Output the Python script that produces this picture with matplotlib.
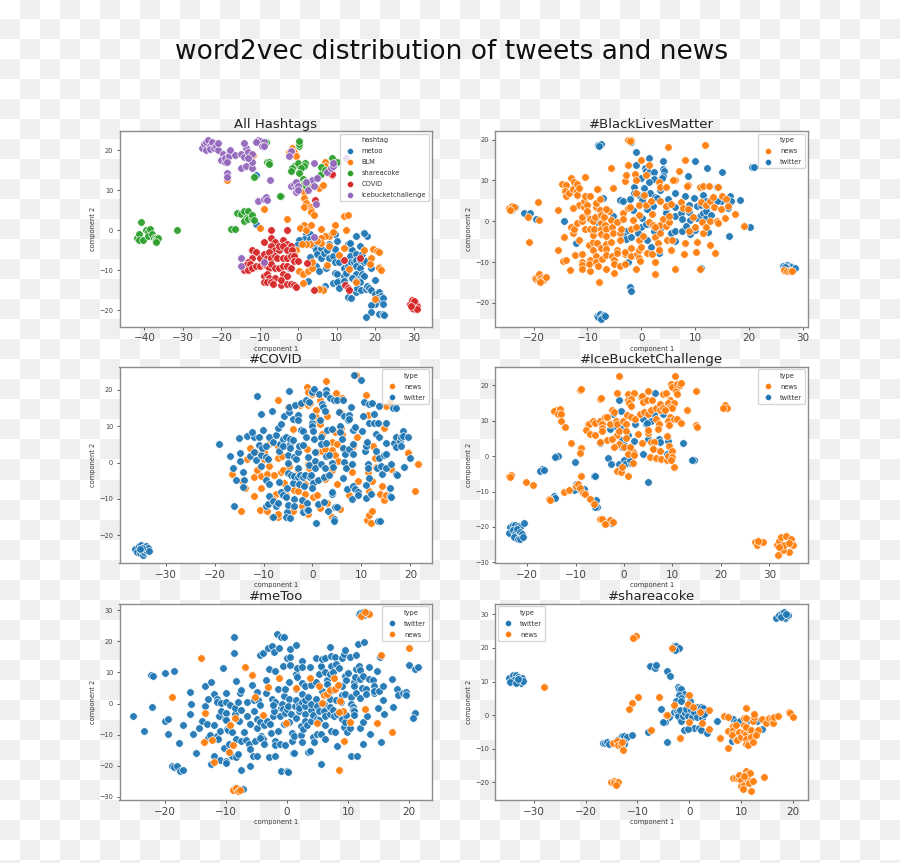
import matplotlib
matplotlib.use("Agg")
import matplotlib.pyplot as plt
import numpy as np
from matplotlib.lines import Line2D

BLUE = "#1f77b4"
ORANGE = "#ff7f0e"
GREEN = "#2ca02c"
RED = "#d62728"
PURPLE = "#9467bd"

# All Hashtags
all_metoo = [(-11.1,1.6),(-11,13.7),(2,-1),(3,-1),(1.5,-2.2),(3,-2.2),(0.3,-2.5),(-0.2,-3.6),(-2.3,-9.5),(2.5,-12.6),(3,-6.8),(4,-4),(4.5,-5),(5,-6),(4.5,-9),(5.5,-10.3),(6,-7),(6,-4.5),(6.8,-5.8),(7.5,-5),(8,-3.5),(8,-7),(9,-6.5),(9.5,-4.7),(9.5,-1),(10,-2.7),(9.5,-8),(10.5,-8),(7.3,-9.5),(9.5,-10.8),(10.2,-11),(10.3,-12.6),(9,-13.2),(10,-13),(10.7,-14.5),(7,-14),(6.5,-14.8),(12,-9.5),(12,-11.5),(12.5,-10.8),(12,-12.7),(13,-9),(13,-3.5),(13.5,-4.5),(14,-5),(13.5,-6.5),(13.7,-8),(14.5,-8),(15,-6),(15,-7.5),(16,-7.5),(15,-9),(16,-9.5),(17,-8),(17.5,-7.8),(16.5,-6),(15,-11),(16,-12),(16.5,-11),(17,-11.5),(14,-12),(15,-12.8),(16,-13),(13,-16.7),(13.8,-17),(15,-15.5),(15.2,-14.5),(16.3,-15),(17.5,-14.7),(18,-14),(18.5,-14.5),(19,-15),(20,-16),(21,-15.5),(21.5,-16.5),(20.5,-17),(21,-17.5),(22,-17),(22,-18.5),(20,-18.5),(19,-18.8),(19,-20.5),(17.5,-21.8),(21,-21),(22,-21),(22.3,-21.3),(20,-12.5),(19,-9.5),(15,-1.5),(18,-1.4),(17,-0.8),(13.5,-3.2),(16,-4)]
all_blm = [(-18.5,12.5),(-11.8,18.8),(-9,5.2),(-10,0.5),(-3,2.7),(1.5,1.2),(0.5,0.6),(2,0),(3.3,1.3),(5.8,0.2),(9.5,1.3),(11.8,3.5),(13,3.9),(12.5,0),(8,-1.5),(7,-1.5),(6,-2),(6,-3.3),(5,-2.8),(3,-3.5),(2,-3.5),(1,-3.5),(-0.5,-5),(-1,-6),(0.2,-10.2),(1.3,-11),(2.5,-10.2),(3.5,-9.5),(1.2,-13.2),(7.5,-8.8),(3.5,-8),(9,-0.5),(10.5,-6.2),(12,-4.5),(13.3,-9.6),(17,-5),(19.5,-4.8),(20.5,-5.2),(21,-5.5),(19,-6.9),(18.7,-8.5),(21,-9.2),(21,-9.5),(21.5,-10),(15,-13),(6.5,-15),(5.5,-14.6),(20,-17.2),(-2.5,19.5),(-1.5,20.5),(-1,19.5),(-0.5,18.5),(-2,19.9),(7,17),(7.5,14.5),(8,14.3),(7,16),(5.3,10.5),(6.5,11.2),(-1,11),(1.5,11),(2.7,11),(1.5,9.5),(1.5,8),(2,6.8),(1.5,5.7),(3.3,5.9),(3.2,5),(3.2,4.5),(4,3.7),(8,-4)]
all_coke = [(-42,-2),(-41.5,-1),(-41.5,-2.5),(-40.5,-2.5),(-39.5,0),(-39,-0.5),(-39,-1.5),(-38.5,0.3),(-38,-1),(-37.5,-2),(-37,-2),(-37,-2.5),(-36.5,-2),(-37,-3),(-41,2),(-31.5,0),(-17.5,0.3),(-16.5,0.3),(-16,4.2),(-15,4),(-14,4.8),(-13,4.9),(-13.5,3),(-14,2.3),(-13,2.8),(-12,3),(-12,3.8),(-11.5,2.5),(-4.5,8.6),(-4.7,8.6),(-8,17),(-7.5,17),(-7.7,16.5),(-8.5,22),(-11.5,13.2),(0.2,21),(0.2,21.5),(0.2,22.3),(-1,16),(-1.5,15.5),(-1.8,14.8),(0,16.8),(1.8,16.8),(1.5,16),(0.7,15.5),(0.2,14.2),(1.2,12.9),(1.8,12),(5,13),(6,14),(6,15.8),(7,15),(8.7,18),(10,17),(1.5,11.5),(2,11)]
all_covid = [(-7,0),(-3,0),(-9,-3),(-7,-2),(-6,-3),(-4,-2.5),(-3,-3.5),(-2,-4),(-7,-4),(-6,-5),(-5,-5),(-5,-4),(-4,-4),(-3,-5),(-1.5,-5),(-12,-5),(-11,-5.5),(-10,-7),(-9,-6),(-8,-7),(-7.5,-5.5),(-7,-7),(-6,-6.5),(-5.5,-7),(-4,-7),(-3,-7),(-2,-6.5),(-1,-6.5),(-12,-7),(-13,-8),(-13.5,-8.7),(-12.5,-8.5),(-14,-10),(-13,-10),(-12,-9.5),(-11,-9),(-10,-9),(-9,-8.5),(-8,-9),(-7.5,-9.5),(-7,-8.5),(-6,-9.5),(-5,-9.5),(-4,-9),(-3,-9),(-2,-9.5),(-1,-7.7),(0,-7.6),(-9,-11.5),(-8,-11),(-7.5,-12),(-6,-12),(-4,-11),(-3,-11.5),(-9,-13),(-8,-13),(-7,-13),(-6.5,-13.5),(-4.5,-13.8),(-4.5,-12.5),(-3,-13.5),(-2,-13.5),(-1,-13.7),(-0.5,-14.3),(2.2,-8.2),(4,-15),(12,-7.5),(12.2,-13.7),(13,-14.5),(13.3,-15),(16,-7),(4.3,7.5),(8.7,13.8),(8.7,14),(29,-18.5),(29.5,-17.5),(30,-18.7),(30.5,-18),(31,-19),(30,-19.8),(29.5,-19.5),(30.8,-19.8),(30.2,-17.6),(29.3,-19)]
all_ice = [(-25,20.5),(-24.5,21.5),(-24,20),(-24,22),(-23.5,22.5),(-23,21),(-23,20.3),(-22.5,22),(-22,20.5),(-21.5,21),(-21,20),(-21,21.7),(-19.5,19),(-20,17.5),(-19,17),(-19,18),(-18,19),(-18,18.5),(-17.7,20),(-18.5,17),(-16.5,18.7),(-15,19),(-14,18.2),(-13.5,20.5),(-14,21.8),(-13,19.5),(-12,19),(-15,15.5),(-13.5,16),(-12,15.5),(-12,17),(-13,18),(-10.5,22.5),(-10,22.2),(-11,22),(-9,22),(-9.5,21),(-9,21),(-18.5,14.2),(-18.5,13.3),(-7.3,12.5),(-10.5,7.3),(-9,7.8),(-8.5,8.3),(-8,7.6),(12.5,18),(4,16.7),(7.5,14.5),(8.5,15.5),(9,16),(9,16.8),(3.5,12.5),(5,13),(-2,11),(-1,11.5),(-0.5,12),(-0.5,10.5),(0,11),(-0.5,9.5),(0,10),(2,12),(2.5,10),(4,11),(-2,19.8),(-2.5,18.5),(4,-1.7),(-15,-7),(-15,-9),(-9,-8),(4.5,6.5)]

# BlackLivesMatter
blm_news = [(-24.5,3.2),(-24,3.7),(-24,3),(-23.7,3.4),(-24.3,2.8),(-21,1),(-19,0.3),(-19.2,4.7),(-20.8,-5.2),(-19.8,-14),(-19.5,-14.2),(-19,-13),(-19,-14.5),(-18.7,-14),(-18.2,-14.3),(-18.3,-14.5),(-17.7,-13.6),(-18.8,-15),(-15.5,2.7),(-15.5,-7),(-14.5,-9.7),(-14,-9.6),(-14.3,-3.8),(-13.2,-12),(-13,-1.3),(-12.7,-2.9),(-12.5,-1.8),(-12.3,-8.3),(-12,-0.5),(-11.5,-4.7),(-11.5,3.9),(-12.6,3.2),(-14.7,9),(-14,8.9),(-14.2,7.5),(-14,6.3),(-13.5,7),(-13,10.5),(-12.5,9.7),(-12.7,8),(-12,9),(-12,7.5),(-12,6.5),(-11.5,8.2),(-10.5,10.9),(-11,-7.9),(-11,-10),(-11,-10.8),(-11,-11.7),(-10.5,-2),(-11,0),(-11,1),(-10.7,3.5),(-10.7,5),(-10.5,6.2),(-10,4),(-10,2),(-10,2.6),(-9.5,6.2),(-9.5,0.5),(-9.5,-1.8),(-9.8,-5.9),(-9.5,-9.5),(-9.5,-12.3),(-9.8,-10.5),(-9,-7),(-9,-5),(-9,-3.4),(-8.8,-1.9),(-9,0),(-8.7,1),(-8.5,3.5),(-8.5,4.5),(-8,8),(-8.3,7.9),(-7.7,5.5),(-7.7,2.8),(-7.5,1.5),(-7.5,-0.5),(-7.5,-1.9),(-7.5,-3.2),(-8.2,-5.3),(-8.5,-8.5),(-8.5,-10),(-8,-11),(-7.9,-14.9),(-7.3,-9.2),(-7.5,-6.5),(-7,1),(-6.8,-1),(-6.5,-2),(-6.5,-3.5),(-6.6,-5.5),(-6.5,-6.7),(-6.6,-8.3),(-6.5,-11.7),(-6,2.5),(-6.5,3),(-5.7,13),(-5.3,8.2),(-5.7,0.2),(-5.5,-1.5),(-5.6,-5),(-5.5,-8.4),(-5,-9.5),(-5,-10.5),(-5,-12.7),(-5.3,-3),(-4.5,-0.3),(-4.5,-7),(-4.5,-7.7),(-4,-11),(-4,-3),(-3.8,-1.9),(-4,-4.7),(-3.5,2),(-3.5,0.5),(-3,-8),(-3,-10.5),(-3,-7.5),(-3,9.8),(-2.8,11.3),(-2.5,13.7),(-2.5,3.3),(-2.1,3.4),(-2,-2),(-2,-6.5),(-2,-8.5),(-1.5,0.3),(-1.2,11.5),(-1,10),(-1,6.8),(-1,-1.5),(-0.8,-8),(-0.5,-9),(-0.3,-9.8),(-1,-11.8),(-0.5,-4.7),(-0.5,-7),(-0.5,1.6),(-0.4,4),(0,14.9),(0,-6.3),(0.3,-3.7),(0.5,6.5),(0.8,3.9),(0.8,11.3),(1,-7.7),(1.4,13.7),(1.5,-0.2),(2,-8),(2,1.7),(1.7,5),(2.1,-0.8),(2.5,-12.9),(2.5,-10),(2.5,-3.9),(3,-5.3),(3.3,-6.9),(3.3,-7),(3.2,9.6),(3.4,8.5),(3.5,-3),(3.4,-1),(2.6,-1.5),(3.5,5),(4,0.5),(4.5,-1.2),(4.5,8.4),(4.5,3.8),(4.9,18.3),(4.8,-4.6),(5.2,-0.3),(5.2,1.2),(5.5,4.3),(5.5,-7),(5.7,-4.7),(6.2,10.1),(6.2,-11.8),(5.8,10),(6.9,12.4),(7.3,4.7),(7.8,3.3),(7.9,-8),(8,14.9),(8,-5.4),(8.7,8.9),(8.5,8.7),(8.7,3),(8.8,-2.5),(9.5,1),(10,-1.5),(10.2,-7.6),(10.3,-5.1),(10.8,-11.7),(10.8,8.5),(11,4.6),(11.2,-0.1),(11.5,8.7),(11.8,18.6),(11.5,-3),(12,-1.4),(12,4),(12.5,8.6),(12.7,5),(12.7,0),(12.8,-5.7),(13.3,5.9),(13.5,3.5),(13.7,-7.7),(14,0),(14.2,-0.5),(14.2,8.3),(14.8,2.9),(15,6.3),(15.5,0.7),(15.7,5.4),(16,3.8),(17.3,1.7),(19,-1.2),(26.5,-12),(27,-12.3),(27.5,-12.3),(28,-12.2),(-2.5,20),(-2,20),(-2.2,19.7)]
blm_twitter = [(-8,18.7),(-7.5,18.9),(-7.8,18.5),(-2,19.5),(-1,16.9),(1.5,15.6),(4,14.7),(10,14.8),(12.2,13.1),(15,12),(20.5,13.2),(20.8,13.4),(-1,13.7),(0.6,13),(0.8,12.3),(1.5,12),(2.4,12),(4,12.9),(4.2,12.3),(4,11.2),(3.9,10.5),(0,10.7),(2.4,10.4),(1.5,9.6),(-1.3,8.4),(0.5,8.2),(3.5,7.6),(8.7,11),(-1.3,6.9),(-0.5,6.4),(1.6,6.8),(2.5,6),(6.2,6.8),(8,6.2),(11.5,6.4),(14,8.5),(15,5.3),(14.8,4.9),(16.5,6.1),(16.7,4.9),(18.3,5.2),(-7.1,5.7),(-4,5.3),(-3.5,5),(-2.2,5.4),(0.1,5.1),(2.8,5.6),(5,5.5),(9.7,5.8),(12,5),(14,5),(16,3.2),(-1.5,2.8),(1,3.1),(2.2,3.8),(4.5,2.6),(6.3,3.4),(8.9,4.1),(10.3,3.7),(11,4),(12,3.3),(0.1,0.9),(1,2.9),(1.5,-0.6),(4.5,2),(6.2,1.2),(7.3,1.9),(7.6,0.5),(8.8,2.3),(9,0.3),(10.3,0.8),(11,1.5),(11.5,2),(11.9,0.9),(12,2.6),(13,1.5),(-14.3,0.1),(-5.3,1.4),(-8.3,-0.3),(-2.8,-2.3),(-0.1,-1.5),(0.8,-0.7),(2.3,-2.4),(3.5,-1.9),(5.5,-2.9),(6.2,-2.5),(7.5,-2.4),(8.3,-1.2),(9,-3.1),(10,-2.2),(12.4,-2.7),(16.2,-3.5),(20.2,-1.5),(-3.5,-3.4),(-2.8,-4.4),(-1.9,-3.8),(-0.7,-2.9),(1.1,-4.7),(1.8,-6.2),(3.3,-7.8),(6.3,-4.8),(-12.1,-5.3),(-2.5,-10),(-2.1,-16.2),(-2,-17),(10.8,-11.6),(11,-11.5),(26.2,-11),(26.5,-11.5),(27,-10.7),(27.5,-11),(27.8,-11.2),(28.4,-11.4),(27,-11.5),(26.7,-11.2),(-8.3,-23.2),(-8,-23.5),(-7.6,-22.8),(-7.4,-23.5),(-7,-23),(-7.5,-23.9),(-6.8,-23.3),(-24,2.7),(-23.5,3.4),(-21.7,1.9),(-20.7,1.9),(-19.5,0.6)]

# COVID
covid_news = [(-16.5,-3.2),(-14.5,-13.3),(-13.8,-7),(-14.3,-5),(-13.3,1),(-12.7,4),(-12,-3.9),(-11.8,3),(-12,-9.2),(-11.3,-2),(-10.8,-13),(-10.5,-3.7),(-10.5,-7),(-10,1),(-9.8,3),(-9.2,-3.2),(-9.3,-13.2),(-8.8,-0.9),(-8.7,5.3),(-8.2,-14.9),(-7.8,-3.3),(-7.5,-8.5),(-8,-10),(-7,-15),(-7,-14),(-7,4.7),(-7,1.2),(-7,17.2),(-6.3,1.7),(-6.5,-2.7),(-6,-2),(-5.8,-5.7),(-5.5,-9),(-5,15.4),(-4.8,-1),(-4,9.3),(-4,-13.3),(-3.8,-7.5),(-3,-2),(-3,-7.8),(-2.5,15.9),(-2.2,-12),(-1.5,-6),(-1.5,-8.5),(-1.2,20.8),(-1,19.5),(-1,15.8),(-1.2,3.7),(-1,-14),(-1,-0.5),(-0.8,-1.5),(-0.5,16.5),(0,19),(0.2,-9.5),(0.5,-5),(0.8,14.4),(0.8,12.5),(1,3),(1,-9),(1.2,11.3),(1.5,10.5),(1.5,17.2),(1.5,-12.5),(2,8),(2,3.2),(2.5,3.7),(2.5,-4.4),(2.7,22.4),(3,12.8),(3,-11),(4,-15),(4,5.8),(4,3.5),(4,-2),(4.5,8.5),(4.5,2.2),(4.7,19.1),(5,5.2),(5,-5.8),(5.3,0.4),(5.7,14),(5.7,-12.8),(5.8,9.5),(6,17.9),(6,8),(6.3,4),(7,-1),(7.5,-9),(8,-2.7),(8.2,4.7),(8.8,24),(9,7),(9.2,-5),(10.9,18.7),(11,5),(11.3,13),(11.3,-2.7),(11.2,-15.8),(11.5,-14.3),(12,-16.7),(12.2,-13.3),(11.5,-7.7),(12.2,-5),(12.3,4.7),(12.7,1.3),(13,-1.3),(13.8,-8.7),(14.2,-6.5),(14.5,9.5),(14.7,-10.3),(15,-9),(15,15.7),(15.9,16.7),(16,-1.8),(17,6.8),(19.5,3),(19.5,2.7),(21,-7.9),(21.5,-0.4)]
covid_twitter = [(-19,5),(-16.9,1.8),(-16.3,-1.5),(-15.6,-4.7),(-16,-11.8),(-14.7,2.6),(-14.9,0.5),(-14.1,-2.7),(-13.9,-4.9),(-14.1,-6.8),(-15,6.8),(-13.3,7.2),(-12.7,1.8),(-12,7.1),(-12.3,8.4),(-12,3),(-11,7.1),(-11,4.8),(-11.5,0.8),(-10.5,2),(-10.5,-1),(-10.3,4),(-10.2,9),(-10.5,13.3),(-11.3,18.2),(-9.5,4.5),(-9.5,1.5),(-9.5,-4.8),(-9,1),(-8.8,-6),(-8.8,-9.3),(-9.5,-12),(-9,-11.5),(-8.8,7),(-8.3,14.3),(-8.1,5.8),(-8,-10.5),(-8,-14.9),(-7.5,7.5),(-7.5,-12),(-7,-11),(-7,9.5),(-6.8,-5.2),(-6.9,3.3),(-6.7,5),(-6.5,10.5),(-6.5,-8),(-6,-9),(-6,6.5),(-6,4.5),(-5.8,12.9),(-5.5,7),(-5.5,-9.5),(-5.3,-13.5),(-5.5,-15),(-5,2),(-5,0),(-5,-2.9),(-5.2,-7),(-5,-11.7),(-4.8,19.7),(-4.7,14),(-4.8,15.3),(-4.5,5),(-4.5,4),(-4.5,6.4),(-4.5,-15.1),(-4.4,-3.5),(-4,-5.5),(-4,12),(-4,6.3),(-3.8,1.6),(-3.7,-3.7),(-3.7,-9.9),(-3.8,-12),(-3.3,1),(-3.5,15.8),(-3,13),(-3,11.8),(-3,3),(-3,-1.5),(-3,-4),(-2.8,-6),(-2.7,4.5),(-2.5,-3.5),(-2.3,9),(-2.3,16.5),(-2.2,-10.2),(-2,-13.7),(-2,8.7),(-2,4.8),(-2,-4),(-1.8,-6.5),(-1.5,-3.5),(-1.3,7),(-1.3,17.3),(-1.2,-12.9),(-1.2,-11),(-1,1.5),(-1,-13),(-0.8,-0.7),(-0.5,-4),(-0.7,16.7),(-0.3,-3.5),(-0.2,11),(-0.2,10),(0,12.8),(0.2,8.8),(0.2,-5.5),(0,-7),(0,19.5),(0.3,20.3),(0.4,6.5),(0.5,3),(0.5,0.5),(0.5,-1.5),(0.7,-16.7),(1.2,-4.7),(1.2,-11.3),(1.3,19),(1.5,11.8),(1.7,7),(1.8,5.2),(1.8,-0.5),(2,16.2),(2.2,15.3),(2.3,-4),(2.3,-10.7),(2.5,14.2),(2.6,-1.5),(2.7,20),(2.7,19),(2.7,5.5),(2.8,1.8),(3,9),(3.3,2),(3.3,-3.5),(3.5,17.8),(3.2,-13.4),(4,0),(3.9,9.2),(4,-8.5),(4,-8),(4.2,-1.3),(4.3,-15.5),(4.4,-16),(4.4,17.3),(4.5,-12.1),(5,-12.2),(5,17.3),(5.5,13.9),(5.7,10),(5.7,8.5),(6,6.5),(6.2,17.2),(6.2,4),(6.3,-4.2),(6.5,12.9),(6.5,0.2),(6.7,2.5),(6.8,-1.5),(7,-7.2),(7.3,11.8),(7.4,3.8),(7.5,13),(7.8,15.2),(7.5,12),(8,-0.5),(8,-10),(8.2,-6.3),(8.2,9),(8.3,2.5),(8.3,5),(8.5,24),(8.6,9.8),(8.7,-7.2),(9.2,-8),(9.3,-8.8),(10,22.7),(10.1,8.8),(10.3,12.8),(10.5,16.7),(10.7,3.2),(11,4.7),(11,-9.7),(11,-6.2),(11.2,5.8),(11.3,-0.5),(11.5,16),(11.5,11),(11.3,-1.5),(11.5,-4.3),(12,-8.7),(12.2,16.5),(12.5,11),(12.6,13.5),(13,8),(13,3.2),(13.2,-1.5),(13.4,11),(13.4,-16),(13.8,-16),(13.5,15.5),(13.5,7),(13.5,1.3),(14,-1),(14.2,-3),(14.7,2),(15,2.5),(15,5.3),(15,-1.5),(15,11),(15.8,-7),(15.8,-9.2),(16,-9.5),(16,-0.5),(16.5,15),(17,14.9),(16.7,5.3),(17,4.3),(17,7),(17,-3),(17.3,-3.5),(17.9,6),(18,7),(18,4.5),(18.5,8.8),(18.5,7.2),(18.7,-1.1),(19.5,7),(20,1.3),(-36.2,-23.7),(-35.8,-24.5),(-35.5,-23),(-35.2,-25),(-35,-22.6),(-35,-24),(-34.7,-25.4),(-34.5,-23.2),(-34.3,-24.7),(-34,-22.9),(-33.9,-24),(-33.5,-23.5),(-33.3,-24.4),(-34.8,-23.6),(-35.3,-23.8)]

# IceBucketChallenge
ice_news = [(-1,22.8),(-1.5,18),(0.8,17.5),(2,18),(0.8,16),(1.5,16.2),(1,15),(1.5,14.3),(3.4,16.6),(3.8,17),(3.9,15.2),(4.9,18.3),(4.8,16),(5.8,15.8),(8,17.6),(8.7,17.8),(9.5,16),(9,15),(10.4,15),(9.5,14),(10,13.5),(9.8,20.5),(10.5,22.8),(10.5,19),(10,19.5),(10.8,18.5),(11,20.5),(11.5,20),(11.8,20.8),(11,17.5),(14.9,18.3),(13,13),(14.9,8.7),(15,8.3),(-14,13),(-14.5,12.8),(-13.2,13.2),(-13.7,11.8),(-13,12),(-13,10),(-12.3,8.3),(-9,18.7),(-8.8,18.9),(-5,16.3),(-4.7,16.4),(-7.5,9),(-7.2,9),(-6.5,10),(-6,9.5),(-5,10),(-4.5,9.2),(-4.5,8),(-4.5,7),(-4,11),(-3.5,11),(-3,9),(-2.5,13),(-2,12.5),(-1.7,10),(-1.5,9),(-0.3,10),(0.3,9),(0.7,11.7),(1.4,11),(2.3,10.5),(3.2,11.8),(4.2,12.5),(5,12),(5.5,13),(6.5,13.5),(7.5,14.8),(7.5,13),(8,13.5),(8.5,13),(6.5,10.5),(7.2,9),(7,7.7),(9.5,11),(9,10),(9.2,8.8),(10.3,10.5),(11,10.5),(11.8,9.3),(-7.8,7.4),(-7,6.3),(-6,6),(-1.5,6),(-1,7),(0.5,7.2),(0.5,5.2),(-3.5,4.5),(-2.5,4.8),(-1,3.5),(-2,2.7),(0,2.5),(-5,4),(2.8,6.3),(3.7,3.6),(5,6.5),(5,7.5),(5.5,4),(6.2,4.1),(8.9,5.7),(9.2,2.9),(5.9,2.3),(6,2.1),(7.5,1.6),(1.5,2),(1.8,1.2),(1.2,2.5),(0.8,0.5),(5.3,-0.1),(6.5,-0.5),(7.7,-0.9),(8.8,-1.2),(9,0),(10,1.4),(10,-0.3),(10.3,-3),(9.8,-1),(1.8,-1.8),(2,0.3),(-1.4,-4.2),(-0.7,-4.4),(0.9,-5.6),(-0.5,-3),(-8.9,-5.6),(-11,3.8),(-8.8,2.3),(-9.2,1),(-23.7,-5.5),(-23.4,-5.4),(-23.5,-5.8),(-20.2,-7.4),(-18.9,-8.2),(-15.5,-12.2),(-15.2,-12.5),(-12.4,-10),(-11.3,-9.5),(-10,-8.5),(-9.5,-8),(-9.2,-9),(-8.5,-10.5),(-8,-10.6),(-7,-12),(-6.3,-13.4),(-5,-17.7),(-4.6,-17.8),(-3.5,-19),(-3,-18),(-2.2,-18.5),(-4,-19.3),(27,-24.3),(27.5,-25),(28,-24.3),(28.8,-24.3),(27.7,-24),(31.5,-25),(32,-24),(32.5,-23),(33.5,-22.5),(34.5,-23.5),(35,-25),(34,-27),(32.8,-26.5),(33,-25),(34,-24.5),(32,-25.7),(31.7,-28),(20.7,14),(20.8,14.5),(21.2,13.5),(20.5,13.5)]
ice_twitter = [(-1,15.8),(-0.7,12.9),(6.4,18),(8,12),(-2.2,11.9),(4,10.5),(4.5,9.2),(5.5,10),(6.1,12),(2.3,9),(4.8,9.5),(-3,7.8),(-1.7,8.5),(-0.5,8),(0.8,6),(-0.5,4.7),(-0.5,2.5),(0,3.2),(2,4.4),(4.9,4.8),(7.2,4.8),(7.5,4),(9,4.2),(12.1,3.8),(-5,3.8),(2,1),(3.9,0.6),(8.9,0.7),(-3.4,-0.6),(-2.6,-2.2),(-1.1,-2.2),(-0.1,-1),(0.2,-2.1),(1.4,-1.9),(1.2,-1.2),(-1,-4),(5,-7.3),(14.2,-1),(14.5,-1.2),(14,-1.2),(-10.2,-1.6),(-14,0),(-13.7,0.1),(-14.2,-0.2),(-17,-3.5),(-17.3,-4.2),(-16.5,-4),(-6.2,-5.5),(-5.9,-5.7),(-10,-8),(-9.7,-9.2),(-10.3,-9.5),(-8.3,-9.3),(-14.5,-11.3),(-14.2,-11.9),(-5.8,-12.5),(-5.5,-14.5),(-6,-14.5),(-3,-18.2),(-2.7,-18.8),(-23.5,-20),(-23,-19.5),(-22.5,-19.5),(-22,-19.7),(-21.5,-20),(-23.7,-21.7),(-23,-21),(-22.5,-22),(-22.2,-20.5),(-21.5,-21.5),(-21,-22),(-22.8,-23),(-22,-23.5),(-21.5,-23.3),(-20.9,-23),(-20.7,-18.8)]

# meToo
metoo_twitter = [(-25.3,-4),(-23.5,-8.7),(-22.3,9.3),(-22,9),(-22.1,-1),(-20,9.7),(-20,-5.5),(-19.6,-5),(-19.6,-9.7),(-18.5,10.6),(-17.7,-12.8),(-18.8,-20.2),(-18.5,-20.5),(-18,-20),(-17.5,-21.8),(-17,-21.2),(-17,-7),(-16,3.7),(-15.8,0),(-16,-3.4),(-15.5,-9.7),(-15,-16),(-14.5,-7.7),(-14,-5.5),(-13.5,5.5),(-13.5,-0.7),(-13.1,-6.7),(-13,-11.2),(-13,1.6),(-12.5,6.8),(-12.6,-10),(-12.5,-19.5),(-12,3),(-12,-7),(-12,-17),(-11.5,1.5),(-11.5,0.5),(-11.5,-10.3),(-11.3,-11.3),(-11.2,-4),(-11,-8.7),(-11,-18),(-10.8,-2.5),(-10.8,0.3),(-10.5,11.4),(-10.3,-14.3),(-10.2,-5),(-10,-3),(-10,-5.3),(-10,-18.5),(-10,-19),(-10,0.5),(-10,3.4),(-9.8,-8.3),(-9.7,-8.5),(-9.5,-13),(-9.5,-15.7),(-9,-9),(-9,-17),(-9.3,-0.6),(-8.7,21.3),(-8.7,16.4),(-8.5,-3.5),(-8.5,-1.5),(-8.3,7.3),(-8.3,-11.5),(-8.3,-17.2),(-8,-16.2),(-8,0.5),(-7.9,-5.5),(-7.7,3.5),(-7.5,4.5),(-7.5,-2),(-7.5,-12),(-7.5,-21.2),(-7.3,-27.5),(-7,-9),(-6.8,-11.7),(-6.5,-4),(-6.5,0.5),(-6.2,-13),(-6,-14.5),(-6,-20.2),(-6,-6.5),(-5.8,6),(-5.6,-17),(-5.5,1),(-5.5,-2.5),(-5,-8),(-5.2,-12),(-5,-17),(-5,3.8),(-5,-5),(-4.8,1),(-4.5,-0.5),(-4.5,-6),(-4.2,-10.5),(-4,-11.5),(-4.5,-11),(-4.4,15.7),(-3.9,16.3),(-3.8,-13),(-3.8,-7),(-3.5,7.7),(-3.5,3.3),(-3.2,18),(-3,11),(-3.3,-5.5),(-3,-17.2),(-2.8,-6.5),(-2.7,-9.4),(-2.5,18.4),(-2.5,1.5),(-2.3,-4),(-2,-17),(-2.2,16.5),(-2.2,-2.3),(-2,-12),(-2,-13.3),(-2,0.5),(-2.3,-0.5),(-1.9,10.5),(-1.7,22.5),(-1.5,-8.7),(-1.5,4.6),(-1.3,17.7),(-1,21.3),(-1,-1.5),(-1.2,-4),(-1.2,-13),(-1,-21.7),(-0.8,0),(-0.7,-1.7),(-0.5,21.5),(-0.6,12),(-0.5,2.5),(-0.5,-6.5),(-0.3,-13.2),(-0.3,-3),(0,-21.7),(0.2,-21.9),(-0.3,4.8),(0,-1.8),(0.3,1.5),(0.3,-6),(0,14.7),(0.2,-0.8),(0.3,7),(0.5,15),(0.5,12.5),(0.5,17.4),(0.7,-3.5),(0.8,-9.5),(0.8,-12),(1,-15.8),(1.2,-16),(1.3,-0.9),(1.2,-10.5),(1.5,18.7),(1.5,4.7),(1.5,1),(1.5,-4.5),(1.5,9.5),(1.6,8.5),(1.6,11.5),(2,-0.5),(2.3,-10),(2.3,-7.3),(2,-2.5),(2,-1.5),(2.5,0.5),(2.5,13.6),(2.5,11.8),(2.5,3),(2.5,6.7),(2.7,-8.2),(2.5,-12.5),(3,5.7),(3,-3.3),(3,-5.5),(3,-0.8),(3,1),(3.3,-7),(3.5,2.2),(3.5,-15.5),(3.7,-15.3),(3.8,11.7),(4,-2),(4,-5.5),(4,6),(4,0),(4.2,-10.7),(4.3,-3.8),(4.5,-12.5),(4.8,1.5),(4.8,7),(4.7,14.5),(5,-0.7),(5,-5),(5,-9.7),(5.3,9.4),(5.3,-5.3),(5.2,-2.5),(5.5,11.8),(5.5,-9.9),(5.5,12.1),(5.7,14.2),(5.6,-19.4),(5.8,4),(6,0),(6,-2.5),(6.2,10),(6.2,-4),(6.3,14.8),(6.3,-7),(6.3,-11.5),(6.5,7.7),(6.5,6.3),(6.8,3),(7,9.5),(7,-3.5),(7,1.5),(7,-1),(7,18.3),(7.2,-8.7),(7.3,12),(7.3,15.4),(7.5,10),(7.5,4.5),(7.5,-2),(7.7,-4),(7.8,15),(7.8,-9),(8,12.6),(8,1),(8.2,-3.5),(8.2,-13.7),(8.5,11.5),(8.7,6),(8.8,0.5),(9,14.7),(9,5.5),(9,2.7),(9,-5),(9.3,16),(9.4,-7.5),(9.5,17.2),(9.5,-6),(9.5,8.7),(9.5,3),(9.7,7.5),(9.7,-3.7),(9.8,-9),(10,9.7),(10.3,-8),(10.3,15),(10.5,2),(10.5,0),(10.8,-1),(10.8,-2),(10.5,-16.7),(11,6.8),(11,5.5),(11,-2.5),(11,-3.8),(11.3,15.5),(11.2,8.5),(11.3,3.5),(11.3,11),(11.5,-17),(11.8,12),(11.7,19.2),(12,10.8),(12,8),(12,1.7),(12,-7.7),(12.5,-6),(12.3,5),(12.5,-13),(12.5,9),(12.7,19.8),(13,4.7),(13,3),(13.2,-4),(13.5,11.7),(13.5,8),(13.7,-9.7),(14.1,7.5),(14.2,5.5),(14.3,3.5),(14.3,4),(14.8,10.6),(15,-1.5),(15.1,4),(15.2,15),(15.5,-12.5),(15.7,1.2),(15.8,5.8),(16,-3.5),(17.4,-1),(17.3,8),(18,4.8),(18.2,2.8),(19,3.5),(19.5,3.8),(19.6,2.6),(20,12.3),(21,-3),(20.7,-4.7),(21,11),(21.5,11.6),(11.8,28.7),(12,29),(12.5,29.3),(13,29.5),(12.7,28.6),(13.3,29.2),(-8,-27.5),(-8.5,-27)]
metoo_news = [(12.2,28.2),(13.5,28.7),(12.8,29.3),(-8.8,-27.7),(-8.3,-27.2),(-8.1,-28),(-7.8,-27.7),(-14.2,14.5),(-6.9,11.8),(-5.8,9.1),(-1.3,8.3),(-18.8,2),(-13.5,-2.9),(-5.3,2),(-3.2,5.3),(-4,-3.7),(-8.5,-4.5),(-9.3,-6.8),(-13.7,-12.3),(-12.3,-11.7),(-8.8,-13.3),(-12,-18.9),(-9.5,-15.7),(1.5,5),(3.7,8.3),(5.3,5.5),(6,2.7),(6.5,3.2),(7,4.5),(7.7,8.3),(7.8,4.7),(8.4,6.1),(8.7,0.9),(9.2,-2.4),(8.5,-2.7),(9.4,-11.9),(10.3,-6),(12.8,-1.8),(14.8,-6.1),(17.2,-9),(5,-6.3),(-0.2,-6.2),(8.5,-21.3),(15.5,15.5),(20,17.8),(5.7,0.3)]

# shareacoke
coke_twitter = [(-34.8,11),(-34,11.8),(-33.5,12),(-33,11.5),(-33,10),(-32.3,11),(-32.5,9.7),(-33.7,10.5),(-34.5,10),(-33.5,9.5),(-32,10.3),(-33,10.8),(16.7,28.8),(17.3,29.7),(17.8,30.5),(18.2,30.7),(18.4,29),(19,29.7),(17.7,29.2),(18.7,30.2),(-3.2,19.7),(-3,20.5),(-2.5,20.5),(-2.2,19.8),(-2,20),(-2.7,19.3),(-7,14.5),(-7.5,14.5),(-6.6,14),(-6.5,14.8),(-4.3,13),(-3.7,11.6),(-2.1,8.5),(-2,7.8),(-1.5,7.7),(-1.1,6.3),(-2,6),(-1.5,5),(-2.5,4.3),(-1.5,4.3),(0.2,4.2),(-5.5,1.8),(-4,-0.5),(-4.7,-2),(-5,-2.1),(-8,-5),(-3,1),(-2.3,1.2),(-2.2,0.5),(-2.2,-0.4),(-1.7,1.5),(-1.6,-1.8),(-1.2,-0.2),(-0.8,0.7),(-0.7,1.7),(-1,-4.5),(-0.3,-0.3),(0.4,1.5),(0.6,-0.5),(0.9,1),(1,-3.9),(1.5,-0.7),(1.5,2.5),(2,1.8),(2.2,2.5),(2.7,2),(2.9,0.5),(2.5,-1),(2.8,0.2),(1.8,-3.8),(2.3,-4.5),(3.5,-5.3),(5.3,-1.7),(-0.2,-4.1),(-4.2,-7.9),(-16.7,-8.3),(-16.2,-8.4),(-15.8,-8),(-15.5,-8.5),(-13.5,-7),(-13,-6.3),(-12.5,-6.2),(-12,-6.5),(-11,-6),(-14,-7.5),(-12.5,-8),(-12.5,-8.7),(8.5,-1.2),(9,-2),(9.7,-1.8),(11.3,-1.6),(13,-1.9),(14,-4.1),(8.3,-7.7)]
coke_news = [(-10.8,23.4),(-10.5,23.5),(-10.2,23.6),(-10.8,23),(-3.4,19.9),(-28,8.3),(-7.3,-4.4),(-9.9,5.5),(-11,3.5),(-11.6,1.8),(-5.9,5.3),(-3,3),(-4.5,0),(-4.2,0),(-14.7,-8.4),(-14,-7.8),(-13.7,-9),(-13.2,-9),(-13,-8),(-12.8,-10.4),(-15,-20),(-14.5,-19.5),(-14.5,-20.2),(-14,-20.5),(-13.8,-20),(-14.2,-20.8),(0,6.1),(-0.3,3.3),(0.7,2.5),(2,1),(3.9,1.4),(2.5,-2.3),(0,-2.1),(-1.7,-6.7),(3.8,-4.2),(6,-6.8),(7.5,-9.7),(6.7,-0.3),(7.5,-0.6),(7.5,-4.6),(8.5,-3.3),(8.5,-4.5),(8.7,-5.5),(8.2,-6),(9,-7.5),(9.2,-7.3),(9.5,-5),(9,-3),(10,-6.5),(10.5,-5),(10.5,-3),(10.5,-1),(11,-1),(10.9,2.1),(11,-5.5),(11,-7),(11,-8.5),(11.3,-9),(11.5,-4.5),(11,-3.5),(12.2,-1.9),(12.5,-0.5),(12.5,0.3),(12,-4.5),(12,-6.5),(12.3,-8),(13,-5),(13.2,-4.5),(12.8,-6),(14,-1.3),(14.8,-2.5),(15.3,-0.8),(16,-0.8),(16.2,-2.5),(16.3,-0.7),(17.2,-0.4),(19.2,0.8),(19.5,0.6),(20,-0.6),(8.5,-18.9),(9,-18.8),(9.5,-19),(9.5,-18),(10,-19.3),(10,-21),(10.5,-20.7),(10.3,-22),(11,-16.8),(11,-18),(11.2,-19),(11.5,-20.3),(11.7,-17.2),(12.3,-19.7),(12,-22.6),(14.4,-18.5),(10.5,-18.2)]

W, H = 900, 863
fig = plt.figure(figsize=(W / 100, H / 100), dpi=100)

# flattened transparency squares behind everything
bg = fig.add_axes([0, 0, 1, 1], zorder=-1)
rows, cols = np.indices((H // 20 + 1, W // 20 + 1))
bg.imshow((rows + cols) % 2, cmap="gray_r", vmin=0, vmax=16, interpolation="nearest",
          extent=[0, (W // 20 + 1) * 20, (H // 20 + 1) * 20, 0], aspect="auto")
bg.set_xlim(0, W)
bg.set_ylim(H, 0)
bg.axis("off")


def panel(box, xlim, ylim, xticks, yticks, title, series, legend_title, order, loc):
    left, top, right, bottom = box
    ax = fig.add_axes([left / W, 1 - bottom / H, (right - left) / W, (bottom - top) / H])
    # series are (label, colour, points), drawn in the order given
    for label, color, pts in series:
        x, y = zip(*pts)
        ax.scatter(x, y, s=30, c=color, edgecolors="white", linewidths=0.5, alpha=0.95)
    ax.set_xlim(xlim)
    ax.set_ylim(ylim)
    ax.set_xticks(xticks)
    ax.set_yticks(yticks)
    ax.tick_params(axis="x", labelsize=7.5, length=2.5, width=0.6, pad=2, colors="#444444")
    ax.tick_params(axis="y", labelsize=4.8, length=2.5, width=0.6, pad=2, colors="#444444")
    ax.set_xlabel("component 1", fontsize=4.8, color="#333333", labelpad=2)
    ax.set_ylabel("component 2", fontsize=4.8, color="#333333", labelpad=2)
    ax.set_title(title, fontsize=9.5, color="#222222", pad=2.5)
    for s in ax.spines.values():
        s.set_color("#8c8c8c")
        s.set_linewidth(1.0)
    colors = {label: color for label, color, pts in series}
    handles = [Line2D([], [], linestyle="none", label=legend_title)]
    for label in order:
        handles.append(Line2D([], [], linestyle="none", marker="o", markersize=4.3, color=colors[label],
                              markeredgecolor="white", markeredgewidth=0.3, label=label))
    ax.legend(handles=handles, loc=loc, fontsize=4.8, labelspacing=0.75, borderpad=0.5, handletextpad=0.8,
              framealpha=0.8, edgecolor="#cccccc", borderaxespad=0.4, labelcolor="#333333")
    return ax


panel((119.5, 131, 432, 327), (-46.5, 34.8), (-24.2, 24.8), range(-40, 31, 10), range(-20, 21, 10), "All Hashtags",
      [("metoo", BLUE, all_metoo), ("BLM", ORANGE, all_blm), ("shareacoke", GREEN, all_coke),
       ("COVID", RED, all_covid), ("icebucketchallenge", PURPLE, all_ice)],
      "hashtag", ["metoo", "BLM", "shareacoke", "COVID", "icebucketchallenge"], "upper right")
panel((495.3, 131, 808, 327), (-27.1, 30.9), (-25.9, 22.1), range(-20, 31, 10), range(-20, 21, 10), "#BlackLivesMatter",
      [("twitter", BLUE, blm_twitter), ("news", ORANGE, blm_news)],
      "type", ["news", "twitter"], "upper right")
panel((119.5, 366.7, 432, 563.3), (-39.4, 24.4), (-27.7, 26.4), range(-30, 21, 10), range(-20, 21, 10), "#COVID",
      [("news", ORANGE, covid_news), ("twitter", BLUE, covid_twitter)],
      "type", ["news", "twitter"], "upper right")
panel((495.3, 366.7, 808, 563.3), (-26.6, 38), (-30.3, 25.3), range(-20, 31, 10), range(-30, 21, 10), "#IceBucketChallenge",
      [("twitter", BLUE, ice_twitter), ("news", ORANGE, ice_news)],
      "type", ["news", "twitter"], "upper right")
panel((119.5, 603.7, 432, 800.3), (-27.5, 23.8), (-31.1, 32.1), range(-20, 21, 10), range(-30, 31, 10), "#meToo",
      [("twitter", BLUE, metoo_twitter), ("news", ORANGE, metoo_news)],
      "type", ["twitter", "news"], "upper right")
panel((495.3, 603.7, 808, 800.3), (-37.4, 22.9), (-25.4, 33.2), range(-30, 21, 10), range(-20, 31, 10), "#shareacoke",
      [("twitter", BLUE, coke_twitter), ("news", ORANGE, coke_news)],
      "type", ["twitter", "news"], "upper left")

fig.text(452 / W, 1 - 52 / H, "word2vec distribution of tweets and news", ha="center", va="center",
         fontsize=19, color="#111111")

fig.savefig("out.png", dpi=100)
